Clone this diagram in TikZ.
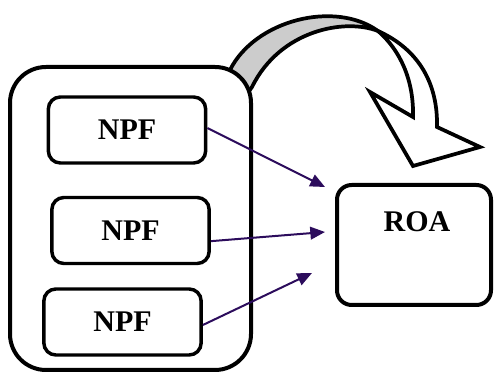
\documentclass[tikz,border=0pt]{standalone}
\usepackage{fontspec}
\setmainfont{Liberation Serif}
\usetikzlibrary{arrows.meta}
\definecolor{linkcol}{HTML}{2C0C5C}
\definecolor{bandgray}{HTML}{CCCCCC}
\begin{document}
\begin{tikzpicture}[x=0.75pt,y=-0.75pt,
  every node/.style={font=\fontsize{22.5}{27}\selectfont\bfseries},
  group/.style={draw, line width=3pt, rounded corners=27pt, fill=white,
    minimum width=180.75pt, minimum height=227.25pt},
  npfbox/.style={draw, line width=2.6pt, rounded corners=9pt, fill=white,
    minimum width=118pt, minimum height=49.5pt, inner sep=0pt},
  roabox/.style={draw, line width=3pt, rounded corners=11pt, fill=white,
    minimum width=115.5pt, minimum height=90pt},
  link/.style={draw=linkcol, line width=1.5pt,
    -{Triangle[length=11pt,width=9.5pt]}},
  band/.style={draw, line width=2.8pt, line join=miter}]
\useasboundingbox (0,0) rectangle (494,374);

% curved arrow: shaded back band, then the white front band with its head
\path[band, fill=bandgray]
  (222,84) -- (230,70) .. controls (255,20) and (335,0) .. (378,31)
  .. controls (345,18) and (280,30) .. (252,87) -- (244,98) -- cycle;
\path[band, fill=white]
  (378,31) .. controls (420,50) and (438,85) .. (437,127)
  -- (480,147) -- (413,166) -- (370,92) -- (413,117)
  .. controls (414,80) and (400,50) .. (378,31) -- cycle;

% grouping box with the three NPF blocks
\node[group] (grp) at (130.5,218.5) {};
\node[npfbox] (n1) at (127,130) {NPF};
\node[npfbox] (n2) at (130.5,230.5) {NPF};
\node[npfbox] (n3) at (122.5,322) {NPF};

% target block
\node[roabox] (roa) at (414,245) {};
\node (roat) at (417,222) {ROA};

% links
\coordinate (e1) at (325,187);
\coordinate (e2) at (325,232);
\coordinate (e3) at (312,273);
\draw[link] ([yshift=1.5pt]n1.east) -- (e1);
\draw[link] ([yshift=-8pt]n2.east) -- (e2);
\draw[link] ([yshift=-2.25pt]n3.east) -- (e3);
\end{tikzpicture}
\end{document}
